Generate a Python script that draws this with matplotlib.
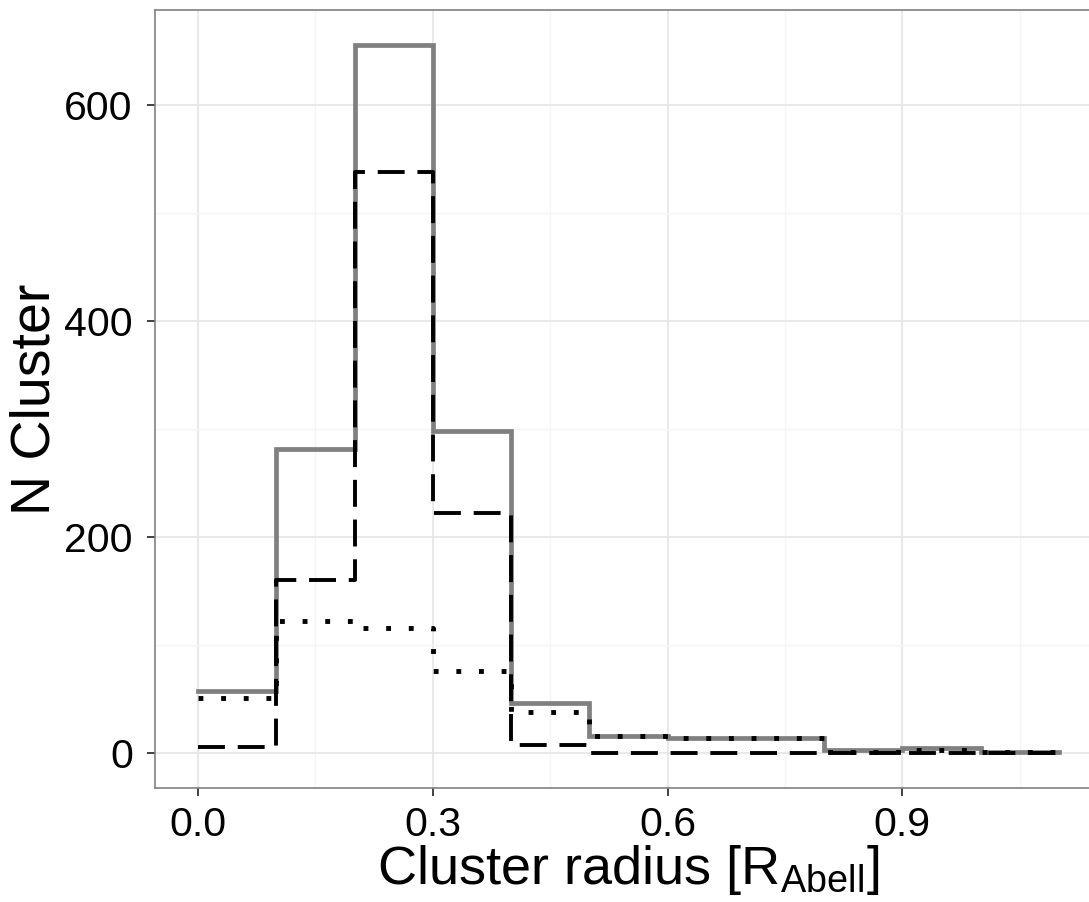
import matplotlib
matplotlib.use('Agg')
import matplotlib.pyplot as plt
import numpy as np

plt.rcParams['font.family'] = ['Liberation Sans', 'DejaVu Sans']
plt.rcParams['mathtext.fontset'] = 'custom'
plt.rcParams['mathtext.rm'] = 'Liberation Sans'
plt.rcParams['lines.scale_dashes'] = False

# bin edges of the radius histogram
edges = [0.0, 0.1, 0.2, 0.3, 0.4, 0.5, 0.6, 0.7, 0.8, 0.9, 1.0, 1.1]

# counts per bin
all_counts = [57, 281, 655, 298, 46, 15, 14, 14, 2, 4, 1]
dashed_counts = [5, 160, 538, 222, 7, 0, 0, 0, 0, 0, 0]
dotted_counts = [51, 122, 115, 76, 38, 15, 14, 14, 1, 2, 1]

xticks = [0.0, 0.3, 0.6, 0.9]
yticks = [0, 200, 400, 600]

fig = plt.figure(figsize=(10.89, 9.02), dpi=100)
ax = fig.add_axes([155/1089, 1 - 788/902, (1102 - 155)/1089, (788 - 10)/902])

def steps(vals):
    return list(vals) + [vals[-1]]

ax.plot(edges, steps(all_counts), drawstyle='steps-post', color='#808080',
        lw=3.4, solid_joinstyle='miter', zorder=3)
ax.plot(edges, steps(dashed_counts), drawstyle='steps-post', color='black',
        lw=2.8, dashes=(19.4, 9.2), zorder=4)
ax.plot(edges, steps(dotted_counts), drawstyle='steps-post', color='black',
        lw=3.5, dashes=(3.5, 12.8), zorder=5)

ax.set_xlim(-0.055, 1.155)
ax.set_ylim(-32.75, 687.75)

ax.set_xticks(xticks)
ax.set_xticklabels(['0.0', '0.3', '0.6', '0.9'])
ax.set_yticks(yticks)
ax.set_xticks([0.15, 0.45, 0.75, 1.05], minor=True)
ax.set_yticks([100, 300, 500], minor=True)

ax.grid(which='major', color='#e5e5e5', lw=1.2, zorder=0)
ax.grid(which='minor', color='#f5f5f5', lw=1.0, zorder=0)
ax.set_axisbelow(True)

ax.tick_params(which='major', length=6, width=1.3, color='#333333',
               labelsize=29.5, labelcolor='black')
ax.tick_params(axis='x', pad=7)
ax.tick_params(axis='y', pad=10)
ax.tick_params(which='minor', length=0)

for s in ax.spines.values():
    s.set_color('#808080')
    s.set_linewidth(1.2)

ax.set_xlabel(r'Cluster radius [R$_{\mathrm{Abell}}$]', fontsize=39, labelpad=-1)
ax.set_ylabel('N Cluster', fontsize=40, labelpad=2)

fig.savefig('out.png', dpi=100)
